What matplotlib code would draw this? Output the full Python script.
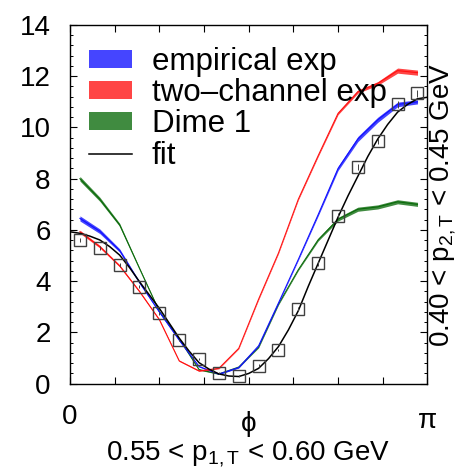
import numpy as np
import matplotlib
matplotlib.use("Agg")
import matplotlib.pyplot as plt
from matplotlib.patches import Patch
from matplotlib.lines import Line2D
from matplotlib.ticker import MultipleLocator, FixedLocator

plt.rcParams['font.family'] = ['Liberation Sans', 'DejaVu Sans']
plt.rcParams['mathtext.fontset'] = 'custom'
plt.rcParams['mathtext.rm'] = 'Liberation Sans'
plt.rcParams['mathtext.it'] = 'Liberation Sans:italic'

# --- data -------------------------------------------------------------
# bin centres in degrees (18 bins over 0..180)
bin_deg = [5, 15, 25, 35, 45, 55, 65, 75, 85, 95, 105, 115, 125, 135, 145, 155, 165, 175]

data_val = [5.61, 5.28, 4.63, 3.79, 2.75, 1.71, 0.96, 0.41, 0.30,
            0.70, 1.32, 2.92, 4.70, 6.55, 8.47, 9.48, 10.91, 11.33]
data_err = [0.08, 0.08, 0.07, 0.07, 0.06, 0.05, 0.05, 0.04, 0.04,
            0.05, 0.05, 0.07, 0.09, 0.10, 0.12, 0.12, 0.13, 0.13]

emp_val = [6.45, 5.95, 5.20, 3.95, 2.80, 1.70, 0.67, 0.38, 0.63,
           1.48, 3.15, 4.85, 6.60, 8.40, 9.55, 10.30, 10.90, 11.00]
emp_wid = [0.20, 0.18, 0.13, 0.08, 0.05, 0.04, 0.04, 0.04, 0.04,
           0.04, 0.05, 0.06, 0.10, 0.16, 0.20, 0.20, 0.18, 0.16]

two_val = [5.93, 5.35, 4.60, 3.60, 2.50, 0.89, 0.50, 0.60, 1.38,
           3.30, 5.10, 7.20, 8.90, 10.55, 11.40, 11.72, 12.22, 12.14]
two_wid = [0.12, 0.10, 0.08, 0.06, 0.05, 0.04, 0.04, 0.04, 0.04,
           0.05, 0.05, 0.06, 0.07, 0.10, 0.12, 0.14, 0.20, 0.20]

dime_val = [8.00, 7.20, 6.20, 4.50, 2.82, 1.75, 0.55, 0.38, 0.65,
            1.42, 3.10, 4.45, 5.62, 6.42, 6.81, 6.90, 7.10, 7.00]
dime_wid = [0.18, 0.16, 0.12, 0.06, 0.04, 0.04, 0.04, 0.04, 0.04,
            0.04, 0.05, 0.06, 0.10, 0.14, 0.16, 0.16, 0.16, 0.16]

fit_deg = [0, 5, 10, 15, 20, 25, 30, 35, 40, 45, 50, 55, 60, 65, 70, 75, 80, 85,
           90, 95, 100, 105, 110, 115, 120, 125, 130, 135, 140, 145, 150, 155,
           160, 165, 170, 175, 180]
fit_val = [5.93, 5.87, 5.76, 5.61, 5.35, 5.02, 4.53, 3.98, 3.46, 2.94, 2.36,
           1.78, 1.27, 0.82, 0.57, 0.38, 0.30, 0.28, 0.40, 0.60, 0.98, 1.45,
           2.10, 2.85, 3.80, 4.70, 5.60, 6.50, 7.33, 8.10, 8.87, 9.55, 10.12,
           10.60, 10.90, 11.12, 11.18]

legend_labels = ['empirical exp', 'two\u2013channel exp', 'Dime 1', 'fit']

# --- figure ------------------------------------------------------------
fig = plt.figure(figsize=(4.67, 4.76), dpi=100)
ax = fig.add_axes([70 / 467, 1 - 383.7 / 476, 357.4 / 467, 358.7 / 476])

phi = np.deg2rad(bin_deg)

def band(vals, wids, color, z):
    v = np.asarray(vals)
    w = np.asarray(wids) / 2
    ax.fill_between(phi, v - w, v + w, color=color, alpha=0.78, lw=0, zorder=z)
    ax.plot(phi, v, color=color, lw=0.8, zorder=z)

band(dime_val, dime_wid, '#0a6a0a', 2)
band(emp_val, emp_wid, '#1010ff', 3)
band(two_val, two_wid, '#ff1010', 4)

ax.plot(np.deg2rad(fit_deg), fit_val, color='black', lw=1.1, zorder=5)

ax.errorbar(phi, data_val, yerr=data_err, fmt='s', ms=8.5, mfc='none',
            mec='#404040', mew=1.0, ecolor='#404040', elinewidth=0.7,
            capsize=0, zorder=6)

ax.set_xlim(0, np.pi)
ax.set_ylim(0, 14)

ax.xaxis.set_major_locator(FixedLocator(np.arange(9) * np.pi / 8))
ax.xaxis.set_minor_locator(FixedLocator([]))
ax.yaxis.set_major_locator(MultipleLocator(2))
ax.yaxis.set_minor_locator(MultipleLocator(0.4))
ax.tick_params(axis='both', which='both', direction='in',
               top=True, right=True, color='black')
ax.tick_params(axis='x', which='major', length=5, width=0.8, labelbottom=False)
ax.tick_params(axis='y', which='major', length=5, width=0.8, labelsize=20, pad=14)
ax.tick_params(axis='y', which='minor', length=2.5, width=0.7)
for s in ax.spines.values():
    s.set_linewidth(1.0)

# x-axis annotations
lab_kw = dict(ha='center', va='center', transform=ax.get_xaxis_transform())
ax.text(0, -0.094, '0', fontsize=20, **lab_kw)
ax.text(np.pi / 2, -0.112, '\u03d5', fontsize=20, **lab_kw)
ax.text(np.pi, -0.104, '\u03c0', fontsize=20, **lab_kw)
fig.text(248 / 467, 1 - 454 / 476, r'0.55 < p$_\mathrm{1,T}$ < 0.60 GeV',
         fontsize=20, ha='center', va='center')
fig.text(443 / 467, 1 - 205 / 476, r'0.40 < p$_\mathrm{2,T}$ < 0.45 GeV',
         fontsize=20, ha='center', va='center', rotation=90)

handles = [Patch(facecolor='#1010ff', alpha=0.78, lw=0),
           Patch(facecolor='#ff1010', alpha=0.78, lw=0),
           Patch(facecolor='#0a6a0a', alpha=0.78, lw=0),
           Line2D([], [], color='black', lw=1.1)]
ax.legend(handles, legend_labels, loc='upper left',
          bbox_to_anchor=(19 / 357.4, (383.7 - 47) / 358.7),
          frameon=False, fontsize=22.5, borderpad=0, borderaxespad=0,
          handlelength=1.38, handleheight=0.51, handletextpad=0.62,
          labelspacing=0.04)

fig.savefig('out.png', dpi=100)
